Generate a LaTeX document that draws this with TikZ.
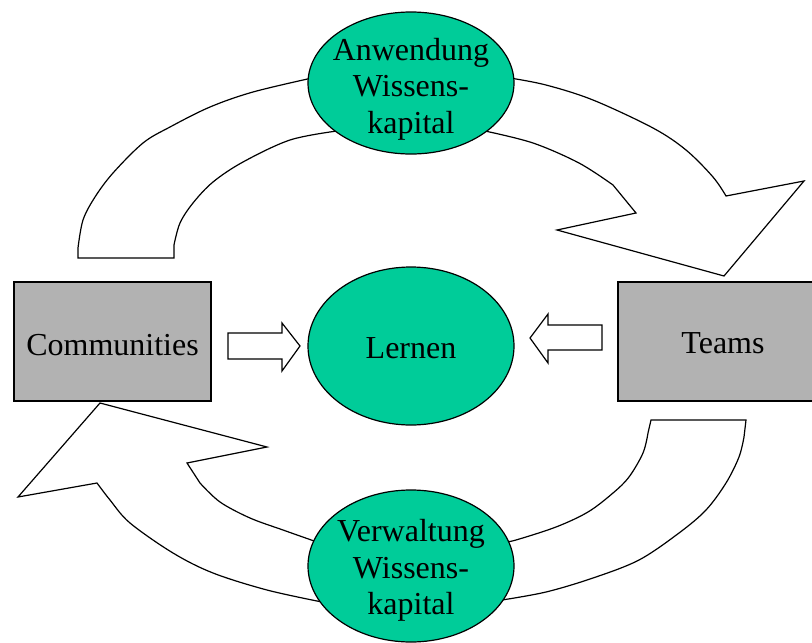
\documentclass[tikz,border=0pt]{standalone}
\usepackage{fontspec}
\setmainfont{Liberation Serif}
\usetikzlibrary{shapes.geometric}
\definecolor{kgreen}{RGB}{0,204,153}
\definecolor{kgrey}{RGB}{178,178,178}
\begin{document}
\begin{tikzpicture}[x=1pt,y=-1pt,
  outl/.style={draw=black,line width=1.2pt,line join=miter},
  blob/.style={ellipse,draw=black,line width=1.2pt,fill=kgreen,inner sep=0pt,minimum width=206pt},
  boxn/.style={rectangle,draw=black,line width=1.2pt,fill=kgrey,inner sep=0pt},
  lab/.style={font=\rmfamily\fontsize{32}{36.5}\selectfont,align=center,inner sep=0pt}]
\useasboundingbox (0,0) rectangle (812,643);
\clip (0,0) rectangle (812,643);
\fill[white] (0,0) rectangle (812,643);

% top curved arrow
\draw[outl,fill=white] (78,258)
  -- plot[smooth,tension=0.55] coordinates {(78,248) (83,220) (95,197) (113,173) (143,143) (170,127) (210,107) (253,92) (312,78)}
  -- plot[smooth,tension=0.55] coordinates {(510,78) (546,85) (593,100) (653,128) (686,150) (713,177) (726,196)}
  -- (804,181) -- (724,276) -- (557,230) -- (636,213)
  -- plot[smooth,tension=0.55] coordinates {(613,185) (579,163) (533,143) (485,131)}
  -- plot[smooth,tension=0.55] coordinates {(337,131) (290,140) (243,162) (213,182) (193,203) (180,223) (174,245)}
  -- (174,258) -- cycle;

% bottom curved arrow
\draw[outl,fill=white] (746,420)
  -- plot[smooth,tension=0.55] coordinates {(744,437) (739,457) (726,483) (706,510) (679,533) (639,560) (593,578) (546,592) (502,600)}
  -- plot[smooth,tension=0.55] coordinates {(322,602) (267,590) (213,573) (173,553) (130,523) (110,500) (97,483)}
  -- (18,497) -- (100,403) -- (267,447) -- (187,463)
  -- plot[smooth,tension=0.55] coordinates {(200,483) (220,502) (250,518) (283,530) (317,542)}
  -- plot[smooth,tension=0.55] coordinates {(505,542) (516,540) (556,527) (588,512) (613,493) (629,477) (643,453) (648,433)}
  -- (651,420) -- cycle;

% nodes
\node[blob,minimum height=142pt] (anw) at (411,83) {};
\node[lab] (anwt) at (411,89) {Anwendung\\Wissens-\\kapital};
\node[blob,minimum height=158pt] (lern) at (411,346) {};
\node[lab,anchor=base] (lernt) at (411,358) {Lernen};
\node[blob,minimum height=152pt] (verw) at (411,566) {};
\node[lab] (verwt) at (411,570.5) {Verwaltung\\Wissens-\\kapital};
\node[boxn,minimum width=197pt,minimum height=119pt] (comm) at (112.5,341.5) {};
\node[lab,anchor=base] (commt) at (112.5,355) {Communities};
\node[boxn,minimum width=212pt,minimum height=119pt] (team) at (724,341.5) {};
\node[lab,anchor=base] (teamt) at (723,353) {Teams};

% small block arrows
\draw[outl,fill=white] (228,333) -- (282,333) -- (282,323) -- (300,346) -- (282,371) -- (282,359) -- (228,359) -- cycle;
\draw[outl,fill=white] (602,325) -- (548,325) -- (548,314) -- (530,338) -- (548,363) -- (548,350) -- (602,350) -- cycle;
\end{tikzpicture}
\end{document}
